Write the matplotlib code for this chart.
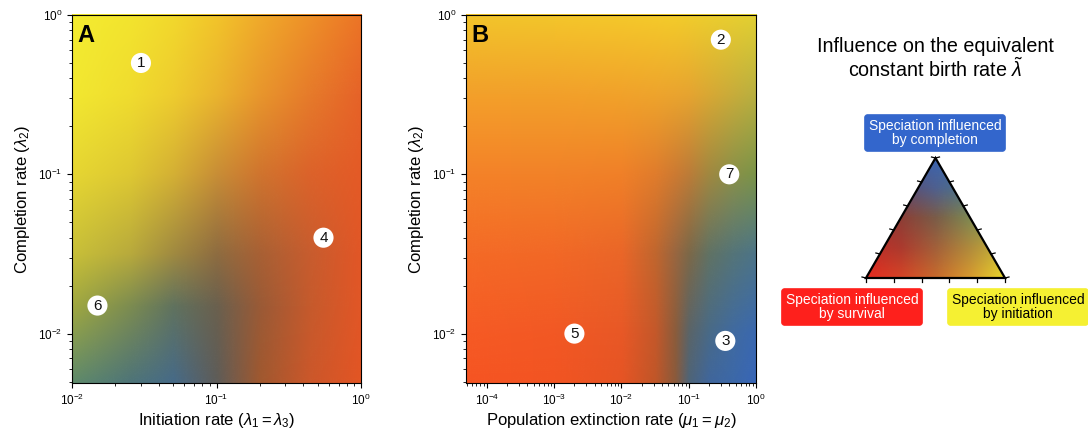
import numpy as np
import matplotlib
matplotlib.use("Agg")
import matplotlib.pyplot as plt
from matplotlib.colors import to_rgb
from matplotlib.patches import Polygon
from matplotlib.image import NonUniformImage

plt.rcParams['font.family'] = ['Liberation Sans', 'DejaVu Sans']
plt.rcParams['mathtext.fontset'] = 'custom'
plt.rcParams['mathtext.rm'] = 'Liberation Sans'
plt.rcParams['mathtext.it'] = 'Liberation Sans:italic'
plt.rcParams['mathtext.bf'] = 'Liberation Sans:bold'

# ---------------- data ----------------
# Panel A: colour read at grid nodes (log10 of rates), rows top -> bottom
a_x_log = [-2.0, -1.6, -1.3, -1.0, -0.7, -0.35, 0.0]
a_y_log = [0.0, -0.5, -1.0, -1.5, -1.83, -2.31]
a_colors = [
    ['#f4ec30', '#f3e42e', '#f2d82c', '#f2c42a', '#f0aa2a', '#ee9028', '#ec7426'],
    ['#f2e830', '#f0dc2e', '#eecc2e', '#eab42e', '#e8962c', '#e67a2a', '#e66228'],
    ['#e6d632', '#dec832', '#d4b034', '#c88e36', '#d0742e', '#dc622a', '#e45a26'],
    ['#c8c038', '#b8aa3c', '#a08a40', '#8e6c40', '#a86034', '#c85c2e', '#e25626'],
    ['#a0a840', '#7c8c50', '#60725e', '#6a604e', '#9a5a36', '#c65a2c', '#e25626'],
    ['#5e8a6a', '#4e7478', '#466a88', '#5e5c58', '#a0582f', '#cc572a', '#e35524'],
]
# Panel B
b_x_log = [-4.31, -3.0, -2.0, -1.5, -1.2, -1.0, -0.7, -0.35, 0.0]
b_y_log = [0.0, -0.5, -1.0, -1.5, -2.0, -2.31]
b_colors = [
    ['#f2c42a', '#f3c62a', '#f4c82a', '#f4ca2a', '#f3cc2a', '#f0cc2c', '#eccd2e', '#e8ce30', '#e2d032'],
    ['#f3a02a', '#f3a02a', '#f1a22a', '#eea42c', '#eaa42e', '#e6a430', '#d8a834', '#c8ac3a', '#b8b040'],
    ['#f48228', '#f28228', '#f08028', '#e07c2c', '#cc7a32', '#bc7c38', '#a08840', '#8a9048', '#7a9448'],
    ['#f46a26', '#f26826', '#ea6628', '#c0662e', '#986640', '#7c6848', '#607264', '#547478', '#4c7488'],
    ['#f65a24', '#f25824', '#e85826', '#c4582a', '#8a5c3c', '#5a6468', '#486a88', '#406aa0', '#3a68b0'],
    ['#f65422', '#f25422', '#e65424', '#c05628', '#8a5a3c', '#4e6478', '#40669c', '#3c68a8', '#3866b8'],
]

# numbered points
a_pts_x = [0.03, 0.55, 0.015]
a_pts_y = [0.5, 0.04, 0.015]
a_pts_lab = ['1', '4', '6']
b_pts_x = [0.3, 0.4, 0.002, 0.35]
b_pts_y = [0.7, 0.1, 0.01, 0.009]
b_pts_lab = ['2', '7', '5', '3']

# ternary key colours on a grid over the triangle's bounding box
# (fraction across, fraction up), rows bottom -> top
key_u = [0.0, 0.25, 0.5, 0.75, 1.0]
key_v = [0.0, 0.25, 0.5, 0.75, 1.0]
key_colors = [
    ['#e42a20', '#d64426', '#c86a2c', '#d89a2e', '#e8d82a'],
    ['#c02c26', '#ac3a2e', '#a2603a', '#b08c3c', '#c8b838'],
    ['#a02830', '#8c3e36', '#7a5c48', '#7e8a52', '#80a050'],
    ['#604070', '#5a4c70', '#4e6090', '#4a7888', '#4a8890'],
    ['#3a64b0', '#3a64b0', '#3a64b0', '#3a64b0', '#3a64b0'],
]
key_labels = ['Speciation influenced\nby completion',
              'Speciation influenced\nby survival',
              'Speciation influenced\nby initiation']
key_box_colors = ['#3366cc', '#fe201c', '#f5f032']
key_text_colors = ['white', 'white', 'black']

# ---------------- figure ----------------
W, H = 1088, 437
fig = plt.figure(figsize=(W / 100, H / 100), dpi=100)


def rgb_grid(cols):
    return np.array([[to_rgb(c) for c in row] for row in cols])


def panel(rect, xl, yl, cols, xlim, ylim, px, py, plab, letter, xlabel):
    # image layer in log10 coordinates
    axi = fig.add_axes(rect)
    C = rgb_grid(cols)[::-1]
    im = NonUniformImage(axi, interpolation='bilinear')
    im.set_data(np.array(xl), np.array(yl)[::-1], C)
    axi.add_image(im)
    axi.set_xlim(np.log10(xlim[0]), np.log10(xlim[1]))
    axi.set_ylim(np.log10(ylim[0]), np.log10(ylim[1]))
    axi.axis('off')
    # log axes on top
    ax = fig.add_axes(rect)
    ax.set_zorder(axi.get_zorder() + 1)
    ax.patch.set_visible(False)
    ax.set_xscale('log')
    ax.set_yscale('log')
    ax.set_xlim(*xlim)
    ax.set_ylim(*ylim)
    ax.scatter(px, py, s=210, c='white', edgecolors='none', zorder=3)
    for x, y, t in zip(px, py, plab):
        ax.text(x, y, t, ha='center', va='center', fontsize=11, color='#111111', zorder=4)
    ax.text(0.02, 0.975, letter, transform=ax.transAxes, ha='left', va='top',
            fontsize=17, fontweight='bold')
    ax.set_xlabel(xlabel, fontsize=12, labelpad=2)
    ax.set_ylabel(r'Completion rate ($\lambda_2$)', fontsize=12, labelpad=4)
    ax.tick_params(labelsize=8.5)
    return ax


axA = panel([72 / W, 1 - 383 / H, 289 / W, 368 / H], a_x_log, a_y_log, a_colors,
            (1e-2, 1), (10 ** -2.31, 1), a_pts_x, a_pts_y, a_pts_lab, 'A',
            r'Initiation rate ($\lambda_1 = \lambda_3$)')
axB = panel([466 / W, 1 - 383 / H, 290 / W, 368 / H], b_x_log, b_y_log, b_colors,
            (10 ** -4.31, 1), (10 ** -2.31, 1), b_pts_x, b_pts_y, b_pts_lab, 'B',
            r'Population extinction rate ($\mu_1 = \mu_2$)')

# triangle key image axes
BL = np.array([866.0, 278.0])
BR = np.array([1005.0, 278.0])
AP = np.array([935.5, 158.0])
axt = fig.add_axes([BL[0] / W, 1 - BL[1] / H, (BR[0] - BL[0]) / W, (BL[1] - AP[1]) / H])
axt.set_xlim(0, 1)
axt.set_ylim(0, 1)
axt.axis('off')
kim = NonUniformImage(axt, interpolation='bilinear')
kim.set_data(np.array(key_u), np.array(key_v), rgb_grid(key_colors))
axt.add_image(kim)
clip = Polygon([[0, 0], [1, 0], [0.5, 1]], closed=True, transform=axt.transData)
kim.set_clip_path(clip)

# overlay axes in pixel coordinates for the key decorations
ov = fig.add_axes([0, 0, 1, 1])
ov.set_zorder(10)
ov.set_xlim(0, W)
ov.set_ylim(H, 0)
ov.axis('off')

ov.text(935, 46, 'Influence on the equivalent', ha='center', va='center', fontsize=14.2)
ov.text(935, 69, r'constant birth rate $\tilde{\lambda}$', ha='center', va='center', fontsize=14.2)

ov.add_patch(Polygon([BL, BR, AP], closed=True, fill=False, ec='black', lw=1.6,
                     joinstyle='miter', zorder=5))
ticks = np.linspace(0, 1, 6)
for f in ticks:
    p = BL + f * (BR - BL)
    ov.plot([p[0], p[0]], [p[1], p[1] + 4], color='black', lw=0.9, zorder=5)
    q = BL + f * (AP - BL)
    ov.plot([q[0], q[0] - 4], [q[1], q[1] - 1], color='black', lw=0.9, zorder=5)
    s = BR + f * (AP - BR)
    ov.plot([s[0], s[0] + 4], [s[1], s[1] - 1], color='black', lw=0.9, zorder=5)

box_pos = [(935, 133), (852, 307), (1018, 307)]
for (x, y), lab, fc, tc in zip(box_pos, key_labels, key_box_colors, key_text_colors):
    ov.text(x, y, lab, ha='center', va='center', fontsize=10, color=tc, linespacing=1.05,
            bbox=dict(boxstyle='round,pad=0.3,rounding_size=0.25', fc=fc, ec=fc, lw=0.5))

fig.savefig('out.png', dpi=100)
